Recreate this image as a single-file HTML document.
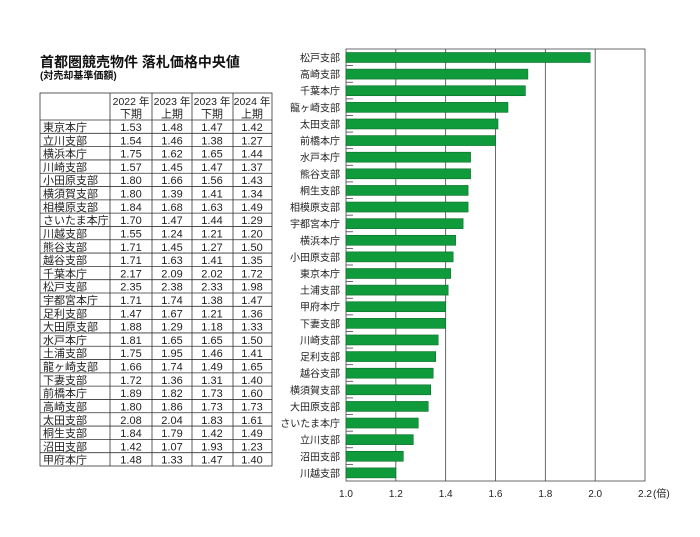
<!DOCTYPE html>
<html><head><meta charset="utf-8"><style>
html,body{margin:0;padding:0;background:#fff;}
svg{display:block;font-family:"Liberation Sans","Noto Sans CJK JP",sans-serif;}
</style></head><body>
<svg width="700" height="537" viewBox="0 0 700 537" xmlns="http://www.w3.org/2000/svg">
<text x="40" y="67" font-size="14" font-weight="bold" fill="#111">首都圏競売物件  落札価格中央値</text>
<text x="40" y="79" font-size="10" font-weight="bold" fill="#111">(対売却基準価額)</text>
<g id="tbl" stroke="#333" stroke-width="0.8" fill="none">
<rect x="40" y="93" width="232" height="373"/>
<line x1="110" y1="93" x2="110" y2="466"/>
<line x1="152" y1="93" x2="152" y2="466"/>
<line x1="192" y1="93" x2="192" y2="466"/>
<line x1="233" y1="93" x2="233" y2="466"/>
</g>
<g id="rows"></g>
<g id="chart"></g>
<script>
const NS="http://www.w3.org/2000/svg";
function el(p,t,a,txt){const e=document.createElementNS(NS,t);for(const k in a)e.setAttribute(k,a[k]);if(txt!==undefined)e.textContent=txt;p.appendChild(e);return e;}
const rows=[["東京本庁","1.53","1.48","1.47","1.42"],["立川支部","1.54","1.46","1.38","1.27"],["横浜本庁","1.75","1.62","1.65","1.44"],["川崎支部","1.57","1.45","1.47","1.37"],["小田原支部","1.80","1.66","1.56","1.43"],["横須賀支部","1.80","1.39","1.41","1.34"],["相模原支部","1.84","1.68","1.63","1.49"],["さいたま本庁","1.70","1.47","1.44","1.29"],["川越支部","1.55","1.24","1.21","1.20"],["熊谷支部","1.71","1.45","1.27","1.50"],["越谷支部","1.71","1.63","1.41","1.35"],["千葉本庁","2.17","2.09","2.02","1.72"],["松戸支部","2.35","2.38","2.33","1.98"],["宇都宮本庁","1.71","1.74","1.38","1.47"],["足利支部","1.47","1.67","1.21","1.36"],["大田原支部","1.88","1.29","1.18","1.33"],["水戸本庁","1.81","1.65","1.65","1.50"],["土浦支部","1.75","1.95","1.46","1.41"],["龍ヶ崎支部","1.66","1.74","1.49","1.65"],["下妻支部","1.72","1.36","1.31","1.40"],["前橋本庁","1.89","1.82","1.73","1.60"],["高崎支部","1.80","1.86","1.73","1.73"],["太田支部","2.08","2.04","1.83","1.61"],["桐生支部","1.84","1.79","1.42","1.49"],["沼田支部","1.42","1.07","1.93","1.23"],["甲府本庁","1.48","1.33","1.47","1.40"]];
const g=document.getElementById("rows");
const cx=[131,172,212,252];
const h1=["2022 年","2023 年","2023 年","2024 年"],h2=["下期","上期","下期","上期"];
for(let i=0;i<4;i++){el(g,"text",{x:cx[i],y:105,"font-size":"10.5","text-anchor":"middle",fill:"#222"},h1[i]);el(g,"text",{x:cx[i],y:117.5,"font-size":"11","text-anchor":"middle",fill:"#222"},h2[i]);}
const rh=(466-120)/26;
el(g,"line",{x1:40,y1:120,x2:272,y2:120,stroke:"#333","stroke-width":0.8});
rows.forEach((r,i)=>{const y=120+i*rh;
 if(i>0)el(g,"line",{x1:40,y1:y,x2:272,y2:y,stroke:"#333","stroke-width":0.8});
 el(g,"text",{x:43,y:y+11,"font-size":"11",fill:"#222"},r[0]);
 for(let j=0;j<4;j++)el(g,"text",{x:cx[j],y:y+11,"font-size":"11","text-anchor":"middle",fill:"#222"},r[j+1]);
});
const c=document.getElementById("chart");
const X0=346,X1=645,T=49,B=481;
const sx=v=>X0+(v-1)/1.2*(X1-X0);
el(c,"rect",{x:X0,y:T,width:X1-X0,height:B-T,fill:"none",stroke:"#444","stroke-width":0.8});
const ticks=["1.0","1.2","1.4","1.6","1.8","2.0","2.2"];
ticks.forEach((t,i)=>{const x=sx(1+0.2*i);
 if(i>0&&i<6)el(c,"line",{x1:x,y1:T,x2:x,y2:B,stroke:"#444","stroke-width":0.8});
 el(c,"text",{x:x,y:497,"font-size":"10","text-anchor":"middle",fill:"#222"},t);});
el(c,"text",{x:653,y:497,"font-size":"10",fill:"#222"},"(倍)");
const bars=[["松戸支部",1.98],["高崎支部",1.73],["千葉本庁",1.72],["龍ヶ崎支部",1.65],["太田支部",1.61],["前橋本庁",1.60],["水戸本庁",1.50],["熊谷支部",1.50],["桐生支部",1.49],["相模原支部",1.49],["宇都宮本庁",1.47],["横浜本庁",1.44],["小田原支部",1.43],["東京本庁",1.42],["土浦支部",1.41],["甲府本庁",1.40],["下妻支部",1.40],["川崎支部",1.37],["足利支部",1.36],["越谷支部",1.35],["横須賀支部",1.34],["大田原支部",1.33],["さいたま本庁",1.29],["立川支部",1.27],["沼田支部",1.23],["川越支部",1.20]];
const bh=(B-T)/26;
bars.forEach((b,i)=>{const y=T+i*bh;
 el(c,"rect",{x:X0,y:y+3.5,width:sx(b[1])-X0,height:10,fill:"#0f9a3c",stroke:"#0b6e2a","stroke-width":0.6});
 if(i<25)el(c,"line",{x1:X0,y1:y+bh,x2:X0+7,y2:y+bh,stroke:"#444","stroke-width":0.8});
 el(c,"text",{x:340,y:y+12.5,"font-size":"10","text-anchor":"end",fill:"#222"},b[0]);
});
</script>
</svg>
</body></html>
